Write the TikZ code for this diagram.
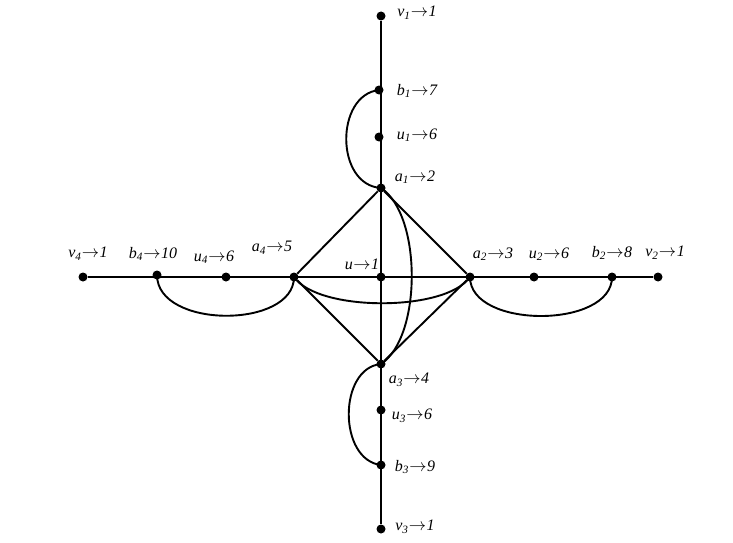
\documentclass[tikz,border=0pt]{standalone}
\usepackage{fontspec}
\setmainfont{Liberation Serif}
\usepackage{tikz}
\tikzset{
  dot/.style={circle,fill=black,inner sep=0pt,minimum size=9pt},
  lab/.style={font=\fontsize{16}{18}\selectfont\itshape,inner sep=0pt},
  edge/.style={line width=1.9pt}
}
\newcommand{\tlab}[3]{#1\textsubscript{#2}\kern0.5pt$\rightarrow$\kern0.5pt#3}

\begin{document}
\begin{tikzpicture}[x=1pt,y=-1pt]
      \useasboundingbox (0,0) rectangle (733,543);
      % vertices
      \node[dot] (v1) at (381,16) {};
      \node[dot] (b1) at (379,90) {};
      \node[dot] (u1) at (379,137) {};
      \node[dot] (a1) at (381,188) {};
      \node[dot] (u) at (381,277) {};
      \node[dot] (a3) at (381,364) {};
      \node[dot] (u3) at (381,410) {};
      \node[dot] (b3) at (381,465) {};
      \node[dot] (v3) at (381,529) {};
      \node[dot] (v4) at (83,277) {};
      \node[dot] (b4) at (157,275) {};
      \node[dot] (u4) at (226,277) {};
      \node[dot] (a4) at (294,277) {};
      \node[dot] (a2) at (470,277) {};
      \node[dot] (u2) at (534,277) {};
      \node[dot] (b2) at (612,277) {};
      \node[dot] (v2) at (658,277) {};
      % labels
      \node[lab] (lv1) at (417,13) {\tlab{v}{1}{1}};
      \node[lab] (lb1) at (417,91) {\tlab{b}{1}{7}};
      \node[lab] (lu1) at (417,135) {\tlab{u}{1}{6}};
      \node[lab] (la1) at (415,177) {\tlab{a}{1}{2}};
      \node[lab] (lu) at (362,264) {u\kern0.5pt$\rightarrow$\kern0.5pt1};
      \node[lab] (la4) at (272,248) {\tlab{a}{4}{5}};
      \node[lab] (la2) at (493,254) {\tlab{a}{2}{3}};
      \node[lab] (lu2) at (549,254) {\tlab{u}{2}{6}};
      \node[lab] (lb2) at (612,253) {\tlab{b}{2}{8}};
      \node[lab] (lv2) at (665,253) {\tlab{v}{2}{1}};
      \node[lab] (lv4) at (88,254) {\tlab{v}{4}{1}};
      \node[lab] (lb4) at (153,254) {\tlab{b}{4}{10}};
      \node[lab] (lu4) at (214,257) {\tlab{u}{4}{6}};
      \node[lab] (la3) at (409,380) {\tlab{a}{3}{4}};
      \node[lab] (lu3) at (412,416) {\tlab{u}{3}{6}};
      \node[lab] (lb3) at (415,467) {\tlab{b}{3}{9}};
      \node[lab] (lv3) at (415,527) {\tlab{v}{3}{1}};
      % straight edges
      \draw[edge] (v1) -- (v3);
      \draw[edge] (v4) -- (v2);
      \draw[edge] (a1) -- (a4) -- (a3) -- (a2) -- (a1);
      % curved edges
      \draw[edge] (b1.center) .. controls (335,95) and (335,185) .. (a1.center);
      \draw[edge] (a3.center) .. controls (338,368) and (338,460) .. (b3.center);
      \draw[edge] (b4.center) .. controls (157,329) and (294,329) .. (a4.center);
      \draw[edge] (a2.center) .. controls (470,329) and (612,329) .. (b2.center);
      \draw[edge] (a4.center) .. controls (318,312) and (446,312) .. (a2.center);
      \draw[edge] (a1.center) .. controls (422,215) and (422,337) .. (a3.center);
\end{tikzpicture}
\end{document}
